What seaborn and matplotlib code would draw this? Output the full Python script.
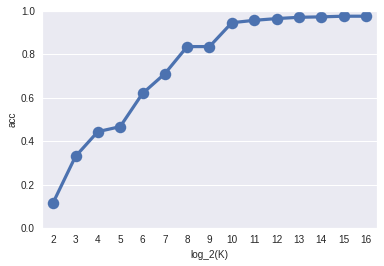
import matplotlib
matplotlib.use("Agg")
import matplotlib.pyplot as plt
import seaborn as sns
import pandas as pd

log2k = [2, 3, 4, 5, 6, 7, 8, 9, 10, 11, 12, 13, 14, 15, 16]
acc = [0.117, 0.330, 0.444, 0.467, 0.620, 0.711, 0.836, 0.836, 0.946, 0.957, 0.965, 0.971, 0.973, 0.976, 0.976]

sns.set_theme(style="darkgrid")
plt.rcParams['font.family'] = ['Liberation Sans', 'DejaVu Sans']
plt.rcParams['font.size'] = 10

df = pd.DataFrame({"log_2(K)": [str(v) for v in log2k], "acc": acc})

fig = plt.figure(figsize=(384/72, 266/72), dpi=72)
ax = fig.add_axes([42/384, 38/266, 335/384, 217/266])
sns.pointplot(data=df, x="log_2(K)", y="acc", color="#4C72B0", ax=ax,
              linewidth=3.2, markersize=11.5, markeredgewidth=0)
ax.set_ylim(0, 1.0)
ax.grid(axis="x", visible=False)
ax.tick_params(labelsize=10, colors=".15", length=0, pad=7)
ax.set_xlabel("log_2(K)", fontsize=10, color=".15", labelpad=5)
ax.set_ylabel("acc", fontsize=10, color=".15", labelpad=3)
fig.savefig("out.png", dpi=72)
